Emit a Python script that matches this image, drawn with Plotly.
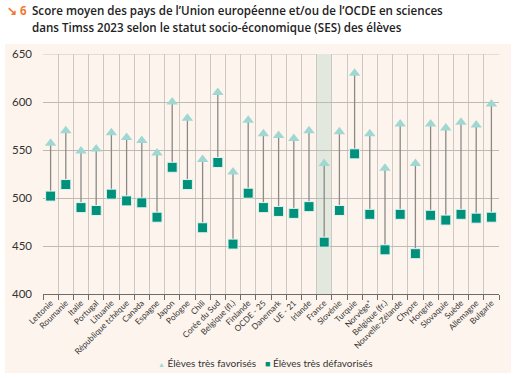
import plotly.graph_objects as go

countries = ["Lettonie", "Roumanie", "Italie", "Portugal", "Lituanie", "République tchèque",
             "Canada", "Espagne", "Japon", "Pologne", "Chili", "Corée du Sud", "Belgique (fl.)",
             "Finlande", "OCDE - 25", "Danemark", "UE - 21", "Irlande", "France", "Slovénie",
             "Turquie", "Norvège*", "Belgique (fr.)", "Nouvelle-Zélande", "Chypre", "Hongrie",
             "Slovaquie", "Suède", "Allemagne", "Bulgarie"]
favorises = [557, 570, 549, 551, 568, 563, 560, 547, 600, 583, 540, 610, 527, 581, 567,
             565, 562, 570, 536, 569, 630, 567, 531, 577, 536, 577, 573, 579, 576, 598]
defavorises = [502, 514, 490, 487, 504, 497, 495, 480, 532, 514, 469, 537, 452, 505, 490,
               486, 484, 491, 454, 487, 546, 483, 446, 483, 442, 482, 477, 483, 479, 480]
legend_names = ["Élèves très favorisés", "Élèves très défavorisés"]
highlight = "France"
y_ticks = [400, 450, 500, 550, 600, 650]

W, H = 515, 378
ML, MT = 43, 54
MR = W - 499
MB = H - 294
PW, PH = W - ML - MR, H - MT - MB

def px_x(p):
    return (p - ML) / PW

def px_y(p):
    return (H - MB - p) / PH

TRI_COL = "#9fd8d3"
SQ_COL = "#00917d"

# connecting segments
lx, ly = [], []
for c, lo, hi in zip(countries, defavorises, favorises):
    lx += [c, c, None]
    ly += [lo, hi, None]

fig = go.Figure()
fig.add_trace(go.Scatter(x=lx, y=ly, mode="lines", line=dict(color="#8c8986", width=1.3),
                         showlegend=False, hoverinfo="skip"))
fig.add_trace(go.Scatter(x=countries, y=favorises, mode="markers", name=legend_names[0],
                         showlegend=False,
                         marker=dict(symbol="triangle-up", size=10, color=TRI_COL,
                                     line=dict(width=0))))
fig.add_trace(go.Scatter(x=countries, y=defavorises, mode="markers", name=legend_names[1],
                         showlegend=False,
                         marker=dict(symbol="square", size=10, color=SQ_COL,
                                     line=dict(width=1, color="#e6f3ee"))))

hi_idx = countries.index(highlight)
shapes = [
    dict(type="rect", xref="paper", yref="paper", x0=px_x(5), x1=px_x(511),
         y0=px_y(373), y1=px_y(44), fillcolor="#fdf5ed", line=dict(width=0), layer="below"),
    dict(type="rect", xref="x", yref="y", x0=hi_idx - 0.5, x1=hi_idx + 0.5,
         y0=y_ticks[0], y1=y_ticks[-1], fillcolor="#e2e8de", line=dict(width=0), layer="below"),
    dict(type="line", xref="paper", yref="y", x0=0, x1=1, y0=y_ticks[-1], y1=y_ticks[-1],
         line=dict(color="#c9c5bf", width=1), layer="below"),
]

annotations = [
    dict(xref="paper", yref="paper", x=px_x(5), y=px_y(10), xanchor="left", yanchor="middle",
         text="<b>↘ 6</b>", showarrow=False, font=dict(family="Open Sans", size=11.5, color="#ef7a2f")),
    dict(xref="paper", yref="paper", x=px_x(30), y=px_y(10), xanchor="left", yanchor="middle",
         text="Score moyen des pays de l’Union européenne et/ou de l’OCDE en sciences",
         showarrow=False, font=dict(family="Open Sans", size=11.6, color="#222222", weight=600)),
    dict(xref="paper", yref="paper", x=px_x(30), y=px_y(27.5), xanchor="left", yanchor="middle",
         text="dans Timss 2023 selon le statut socio-économique (SES) des élèves",
         showarrow=False, font=dict(family="Open Sans", size=11.6, color="#222222", weight=600)),
    # legend
    dict(xref="paper", yref="paper", x=px_x(156), y=px_y(363), xanchor="left", yanchor="middle",
         text=f"<span style='color:{TRI_COL};font-size:7px'>▲</span> {legend_names[0]}",
         showarrow=False, font=dict(family="Lato", size=10, color="#333333")),
    dict(xref="paper", yref="paper", x=px_x(263), y=px_y(363), xanchor="left", yanchor="middle",
         text=f"<span style='color:{SQ_COL};font-size:9px'>■</span> {legend_names[1]}",
         showarrow=False, font=dict(family="Lato", size=10, color="#333333")),
]

fig.update_layout(
    width=W, height=H,
    margin=dict(l=ML, r=MR, t=MT, b=MB, autoexpand=False),
    paper_bgcolor="white",
    plot_bgcolor="rgba(0,0,0,0)",
    shapes=shapes,
    annotations=annotations,
    showlegend=False,
    xaxis=dict(type="category", categoryorder="array", categoryarray=countries,
               range=[-0.5, len(countries) - 0.5], tickson="boundaries",
               showgrid=True, gridcolor="#cdc8c2", gridwidth=1.3,
               showline=True, linecolor="#6f6c69", linewidth=1,
               ticks="outside", ticklen=5, tickcolor="#6f6c69",
               tickangle=-45, tickfont=dict(family="Lato", size=8.3, color="#333333"),
               zeroline=False, automargin=False),
    yaxis=dict(range=[y_ticks[0], y_ticks[-1]], tickvals=y_ticks, showgrid=True,
               gridcolor="#bdb9b3", gridwidth=1, zeroline=False, showline=False,
               ticks="", ticklabelstandoff=10, automargin=False,
               tickfont=dict(family="Lato", size=11.5, color="#333333")),
)

# let the figure sit in the page's top-left corner (no default body margin)
fig.write_html("out.html", config={"displayModeBar": False},
               post_script="document.body.style.margin='0';")
